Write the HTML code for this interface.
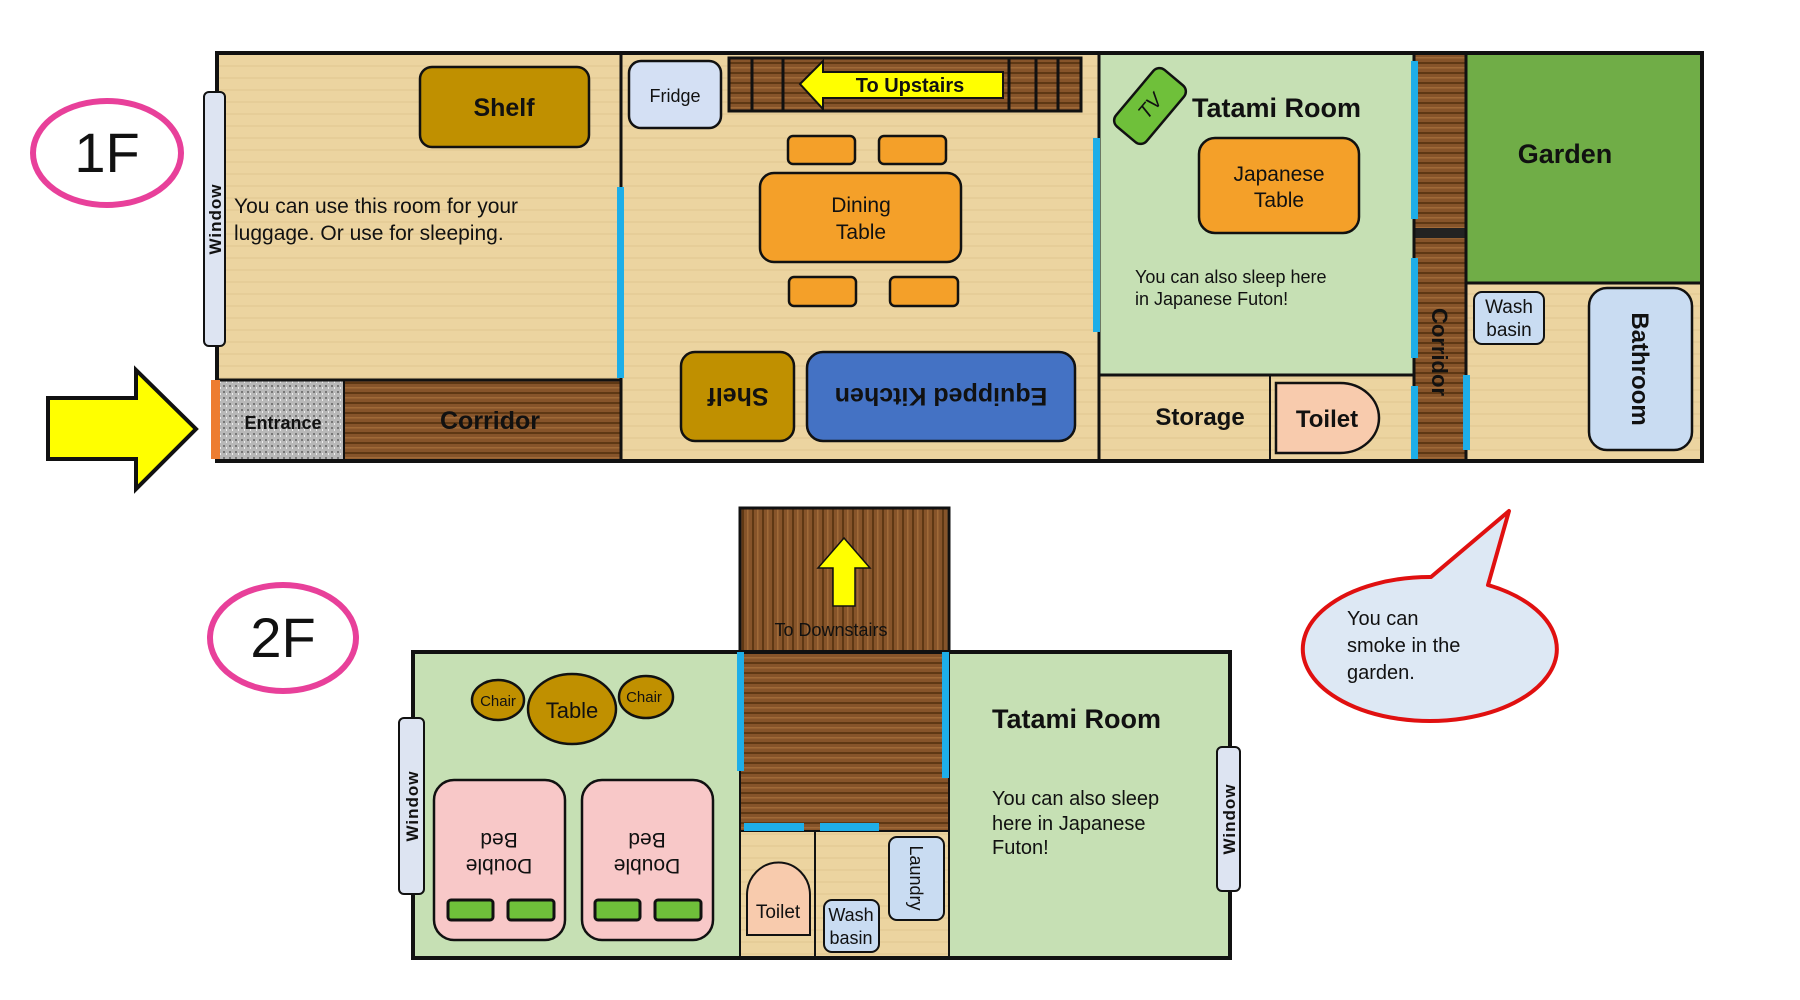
<!DOCTYPE html>
<html><head><meta charset="utf-8"><style>
html,body{margin:0;padding:0;background:#fff;}
svg{display:block;}
text{font-family:"Liberation Sans",sans-serif;fill:#111;}
</style></head><body>
<svg width="1800" height="1000" viewBox="0 0 1800 1000" xmlns="http://www.w3.org/2000/svg">
<defs>
<pattern id="floor" width="40" height="12" patternUnits="userSpaceOnUse">
<rect width="40" height="12" fill="#ecd4a0"/><rect y="5" width="40" height="2" fill="#e3c892" opacity=".6"/>
</pattern>
<pattern id="woodH" width="60" height="10" patternUnits="userSpaceOnUse">
<rect width="60" height="10" fill="#86542a"/><rect y="2" width="60" height="2" fill="#5e3814"/><rect y="7" width="60" height="1.5" fill="#a06a38"/>
</pattern>
<pattern id="woodV" width="10" height="60" patternUnits="userSpaceOnUse">
<rect width="10" height="60" fill="#86542a"/><rect x="2" width="2" height="60" fill="#5e3814"/><rect x="7" width="1.5" height="60" fill="#a06a38"/>
</pattern>
<pattern id="gravel" width="6" height="6" patternUnits="userSpaceOnUse">
<rect width="6" height="6" fill="#b8b8b8"/><rect x="1" y="1" width="2" height="2" fill="#777"/><rect x="4" y="3" width="1" height="2" fill="#eee"/>
</pattern>
</defs>

<ellipse cx="107" cy="153" rx="74" ry="52" fill="none" stroke="#e8409a" stroke-width="6"/>
<text x="107" y="172" font-size="56" text-anchor="middle">1F</text>

<polygon points="48,398 136,398 136,370 196,429 136,489 136,459 48,459" fill="#ffff00" stroke="#111" stroke-width="4"/>

<rect x="217" y="53" width="1485" height="408" fill="url(#floor)"/>
<rect x="1099" y="53" width="315" height="322" fill="#c6e0b4"/>
<rect x="1466" y="53" width="236" height="230" fill="#70ad47"/>
<rect x="217" y="380" width="127" height="81" fill="url(#gravel)"/>
<rect x="344" y="380" width="277" height="81" fill="url(#woodH)"/>
<rect x="1414" y="53" width="52" height="408" fill="url(#woodH)"/>
<rect x="1414" y="228" width="52" height="10" fill="#222"/>
<rect x="217" y="53" width="1485" height="408" fill="none" stroke="#111" stroke-width="4"/>
<line x1="621" y1="53" x2="621" y2="461" stroke="#111" stroke-width="3"/>
<line x1="217" y1="380" x2="621" y2="380" stroke="#111" stroke-width="3"/>
<line x1="344" y1="380" x2="344" y2="461" stroke="#111" stroke-width="2"/>
<line x1="1099" y1="53" x2="1099" y2="461" stroke="#111" stroke-width="3"/>
<line x1="1099" y1="375" x2="1414" y2="375" stroke="#111" stroke-width="3"/>
<line x1="1270" y1="375" x2="1270" y2="461" stroke="#111" stroke-width="2"/>
<line x1="1414" y1="53" x2="1414" y2="461" stroke="#111" stroke-width="3"/>
<line x1="1466" y1="53" x2="1466" y2="461" stroke="#111" stroke-width="3"/>
<line x1="1466" y1="283" x2="1702" y2="283" stroke="#111" stroke-width="3"/>
<rect x="617" y="187" width="7" height="191" fill="#1eaee8"/>
<rect x="1093" y="138" width="7" height="194" fill="#1eaee8"/>
<rect x="1411" y="61" width="7" height="158" fill="#1eaee8"/>
<rect x="1411" y="258" width="7" height="100" fill="#1eaee8"/>
<rect x="1411" y="386" width="7" height="73" fill="#1eaee8"/>
<rect x="1463" y="375" width="7" height="75" fill="#1eaee8"/>
<rect x="211" y="380" width="9" height="79" fill="#ed7d31"/>

<rect x="204" y="92" width="21" height="254" rx="5" fill="#dde4f2" stroke="#111" stroke-width="2"/>
<text transform="translate(221,219) rotate(-90)" font-size="17" font-weight="bold" text-anchor="middle" letter-spacing="1">Window</text>

<rect x="420" y="67" width="169" height="80" rx="12" fill="#c09000" stroke="#111" stroke-width="2.5"/>
<text x="504" y="116" font-size="25" font-weight="bold" text-anchor="middle">Shelf</text>
<text x="234" y="213" font-size="21">You can use this room for your</text>
<text x="234" y="240" font-size="21">luggage. Or use for sleeping.</text>

<text x="283" y="429" font-size="18" font-weight="bold" text-anchor="middle">Entrance</text>
<text x="490" y="429" font-size="25" font-weight="bold" text-anchor="middle">Corridor</text>

<rect x="629" y="61" width="92" height="67" rx="12" fill="#d4e0f4" stroke="#111" stroke-width="2.5"/>
<text x="675" y="102" font-size="18" text-anchor="middle">Fridge</text>
<rect x="729" y="58" width="352" height="53" fill="url(#woodH)" stroke="#111" stroke-width="3"/>
<g stroke="#111" stroke-width="3"><line x1="752" y1="58" x2="752" y2="111"/><line x1="783" y1="58" x2="783" y2="111"/><line x1="1009" y1="58" x2="1009" y2="111"/><line x1="1036" y1="58" x2="1036" y2="111"/><line x1="1058" y1="58" x2="1058" y2="111"/></g>
<polygon points="800,84 823,61 823,72 1003,72 1003,98 823,98 823,109" fill="#ffff00" stroke="#111" stroke-width="2"/>
<text x="910" y="92" font-size="20" font-weight="bold" text-anchor="middle">To Upstairs</text>
<g fill="#f4a029" stroke="#111" stroke-width="2.5">
<rect x="788" y="136" width="67" height="28" rx="5"/><rect x="879" y="136" width="67" height="28" rx="5"/>
<rect x="760" y="173" width="201" height="89" rx="14"/>
<rect x="789" y="277" width="67" height="29" rx="5"/><rect x="890" y="277" width="68" height="29" rx="5"/>
<rect x="1199" y="138" width="160" height="95" rx="16"/>
</g>
<text x="861" y="212" font-size="21" text-anchor="middle">Dining</text>
<text x="861" y="239" font-size="21" text-anchor="middle">Table</text>
<rect x="681" y="352" width="113" height="89" rx="14" fill="#c09000" stroke="#111" stroke-width="2.5"/>
<text transform="translate(738,397) rotate(180)" font-size="25" font-weight="bold" text-anchor="middle" dy="9">Shelf</text>
<rect x="807" y="352" width="268" height="89" rx="16" fill="#4472c4" stroke="#111" stroke-width="2.5"/>
<text transform="translate(941,397) rotate(180)" font-size="25" font-weight="bold" text-anchor="middle" dy="9">Equipped Kitchen</text>

<g transform="translate(1150,106) rotate(40)">
<rect x="-20" y="-37" width="40" height="74" rx="8" fill="#6fc03a" stroke="#111" stroke-width="2.5"/>
<text transform="rotate(-90)" font-size="20" font-style="italic" text-anchor="middle" dy="7">TV</text>
</g>
<text x="1192" y="117" font-size="27" font-weight="bold">Tatami Room</text>
<text x="1279" y="181" font-size="21" text-anchor="middle">Japanese</text>
<text x="1279" y="207" font-size="21" text-anchor="middle">Table</text>
<text x="1135" y="283" font-size="18">You can also sleep here</text>
<text x="1135" y="305" font-size="18">in Japanese Futon!</text>
<text x="1200" y="425" font-size="24" font-weight="bold" text-anchor="middle">Storage</text>
<path d="M1276,383 H1340 A39,35 0 0 1 1340,453 H1276 Z" fill="#f8cbad" stroke="#111" stroke-width="2.5"/>
<text x="1327" y="427" font-size="24" font-weight="bold" text-anchor="middle">Toilet</text>
<text transform="translate(1440,352) rotate(90)" font-size="22" font-weight="bold" text-anchor="middle" dy="8">Corridor</text>
<text x="1565" y="163" font-size="27" font-weight="bold" text-anchor="middle">Garden</text>
<rect x="1474" y="292" width="70" height="52" rx="8" fill="#c9dcf2" stroke="#111" stroke-width="2"/>
<text x="1509" y="313" font-size="19" text-anchor="middle">Wash</text>
<text x="1509" y="336" font-size="19" text-anchor="middle">basin</text>
<rect x="1589" y="288" width="103" height="162" rx="18" fill="#c9dcf2" stroke="#111" stroke-width="2.5"/>
<text transform="translate(1640,369) rotate(90)" font-size="24" font-weight="bold" text-anchor="middle" dy="8">Bathroom</text>

<ellipse cx="283" cy="638" rx="73" ry="53" fill="none" stroke="#e8409a" stroke-width="6"/>
<text x="283" y="657" font-size="56" text-anchor="middle">2F</text>

<rect x="740" y="508" width="209" height="144" fill="url(#woodV)" stroke="#111" stroke-width="3"/>
<polygon points="844,538 870,568 855,568 855,606 833,606 833,568 818,568" fill="#ffff00" stroke="#111" stroke-width="1.5"/>
<text x="831" y="636" font-size="18" text-anchor="middle">To Downstairs</text>

<rect x="413" y="652" width="817" height="306" fill="#c6e0b4"/>
<rect x="740" y="652" width="209" height="179" fill="url(#woodH)"/>
<rect x="740" y="831" width="209" height="127" fill="url(#floor)"/>
<rect x="413" y="652" width="817" height="306" fill="none" stroke="#111" stroke-width="4"/>
<line x1="740" y1="652" x2="740" y2="958" stroke="#111" stroke-width="2"/>
<line x1="949" y1="652" x2="949" y2="958" stroke="#111" stroke-width="2"/>
<line x1="740" y1="831" x2="949" y2="831" stroke="#111" stroke-width="2"/>
<line x1="815" y1="831" x2="815" y2="958" stroke="#111" stroke-width="2"/>
<rect x="737" y="652" width="7" height="119" fill="#1eaee8"/>
<rect x="942" y="652" width="7" height="126" fill="#1eaee8"/>
<rect x="744" y="823" width="60" height="8" fill="#1eaee8"/>
<rect x="820" y="823" width="59" height="8" fill="#1eaee8"/>

<rect x="399" y="718" width="25" height="176" rx="5" fill="#dde4f2" stroke="#111" stroke-width="2"/>
<text transform="translate(418,806) rotate(-90)" font-size="17" font-weight="bold" text-anchor="middle" letter-spacing="1">Window</text>
<rect x="1217" y="747" width="23" height="144" rx="5" fill="#dde4f2" stroke="#111" stroke-width="2"/>
<text transform="translate(1235,819) rotate(-90)" font-size="17" font-weight="bold" text-anchor="middle" letter-spacing="1">Window</text>

<g fill="#c09000" stroke="#111" stroke-width="2.5">
<ellipse cx="498" cy="700" rx="26" ry="20"/><ellipse cx="646" cy="697" rx="27" ry="21"/><ellipse cx="572" cy="709" rx="44" ry="35"/>
</g>
<text x="498" y="706" font-size="15" text-anchor="middle">Chair</text>
<text x="644" y="702" font-size="15" text-anchor="middle">Chair</text>
<text x="572" y="718" font-size="22" text-anchor="middle">Table</text>

<g fill="#f8c8c8" stroke="#111" stroke-width="2.5">
<rect x="434" y="780" width="131" height="160" rx="20"/><rect x="582" y="780" width="131" height="160" rx="20"/>
</g>
<g fill="#6fc03a" stroke="#111" stroke-width="3">
<rect x="448" y="900" width="45" height="20" rx="3"/><rect x="508" y="900" width="46" height="20" rx="3"/>
<rect x="595" y="900" width="45" height="20" rx="3"/><rect x="655" y="900" width="46" height="20" rx="3"/>
</g>
<text transform="translate(499,833) rotate(180)" font-size="21" text-anchor="middle">Bed</text>
<text transform="translate(499,859) rotate(180)" font-size="21" text-anchor="middle">Double</text>
<text transform="translate(647,833) rotate(180)" font-size="21" text-anchor="middle">Bed</text>
<text transform="translate(647,859) rotate(180)" font-size="21" text-anchor="middle">Double</text>

<path d="M747,935 V895 A31,32 0 0 1 810,895 V935 Z" fill="#f8cbad" stroke="#111" stroke-width="2"/>
<text x="778" y="918" font-size="19" text-anchor="middle">Toilet</text>
<rect x="824" y="900" width="55" height="52" rx="8" fill="#c9dcf2" stroke="#111" stroke-width="2"/>
<text x="851" y="921" font-size="18" text-anchor="middle">Wash</text>
<text x="851" y="944" font-size="18" text-anchor="middle">basin</text>
<rect x="889" y="837" width="55" height="83" rx="8" fill="#c9dcf2" stroke="#111" stroke-width="2"/>
<text transform="translate(916,878) rotate(90)" font-size="18" text-anchor="middle" dy="6">Laundry</text>

<text x="992" y="728" font-size="27" font-weight="bold">Tatami Room</text>
<text x="992" y="805" font-size="20">You can also sleep</text>
<text x="992" y="830" font-size="20">here in Japanese</text>
<text x="992" y="854" font-size="20">Futon!</text>

<path d="M1431,577 L1509,511 L1488,585 A127,72 0 1 1 1431,577 Z" fill="#dde8f4" stroke="#e01010" stroke-width="4" stroke-linejoin="round"/>
<text x="1347" y="625" font-size="20">You can</text>
<text x="1347" y="652" font-size="20">smoke in the</text>
<text x="1347" y="679" font-size="20">garden.</text>
</svg>
</body></html>
